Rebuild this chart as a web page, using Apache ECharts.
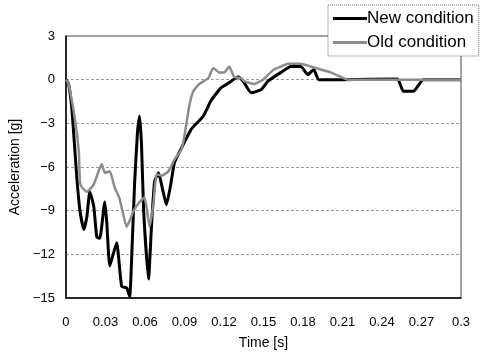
<!DOCTYPE html>
<html>
<head>
<meta charset="utf-8">
<script src="https://cdn.jsdelivr.net/npm/echarts@6/dist/echarts.min.js"></script>
<style>html,body{margin:0;padding:0;background:#fff}#c{width:495px;height:359px}</style>
</head>
<body>
<div id="c"></div>
<script>
var yTicks = [3, 0, -3, -6, -9, -12, -15];
var xTicks = [0, 0.03, 0.06, 0.09, 0.12, 0.15, 0.18, 0.21, 0.24, 0.27, 0.3];

var newTime = [0, 0.002, 0.0045, 0.0065, 0.0083, 0.0105, 0.0136, 0.0159, 0.0181, 0.0211, 0.0234, 0.0257, 0.0295, 0.031, 0.0333, 0.0385, 0.0423, 0.0461, 0.0484, 0.05, 0.0522, 0.0544, 0.0559, 0.0574, 0.059, 0.0627, 0.065, 0.0673, 0.0703, 0.0733, 0.0763, 0.0794, 0.0824, 0.0877, 0.0952, 0.1043, 0.1104, 0.1179, 0.124, 0.1308, 0.1353, 0.1406, 0.1481, 0.1534, 0.1633, 0.1708, 0.1784, 0.1837, 0.1882, 0.192, 0.2086, 0.2517, 0.2562, 0.2638, 0.2714, 0.3];
var newAccel = [0, -0.3, -2, -4.5, -6.8, -8.9, -10.3, -9.4, -7.7, -8.7, -10.8, -10.9, -8.4, -9.8, -12.8, -11.2, -14.2, -14.3, -14.9, -12, -7, -3.5, -2.5, -4.5, -9, -13.7, -10, -7, -6.4, -7.5, -8.6, -7.3, -5.7, -4.7, -3.4, -2.5, -1.4, -0.55, -0.2, 0.2, -0.2, -0.9, -0.7, -0.1, 0.5, 0.9, 0.9, 0.35, 0.7, 0, 0, 0.05, -0.8, -0.8, 0, 0];

var oldTime = [0, 0.002, 0.0068, 0.0098, 0.0106, 0.0121, 0.0159, 0.0211, 0.0272, 0.0295, 0.0333, 0.037, 0.0408, 0.0461, 0.0484, 0.0514, 0.0559, 0.0597, 0.0635, 0.0665, 0.0688, 0.0726, 0.0778, 0.0824, 0.0877, 0.0899, 0.0937, 0.0967, 0.1012, 0.1081, 0.1119, 0.1164, 0.1202, 0.124, 0.1277, 0.133, 0.1353, 0.1429, 0.1497, 0.1542, 0.158, 0.1633, 0.1686, 0.1784, 0.1859, 0.1935, 0.201, 0.2086, 0.2139, 0.3];
var oldAccel = [0, -0.3, -2.7, -5, -7, -7.4, -7.7, -7.2, -5.8, -6.4, -6.3, -7.4, -8.2, -10.1, -9.7, -9, -8.4, -8.1, -10.1, -8.5, -6.5, -6.6, -6.3, -5.5, -4.8, -3.9, -1.8, -0.8, -0.3, 0.1, 0.8, 0.5, 0.5, 0.9, 0.2, 0.1, -0.1, -0.3, 0, 0.4, 0.7, 0.9, 1.1, 1.1, 0.9, 0.7, 0.5, 0.2, 0, 0];

function pairs(t, v) { return t.map(function (x, i) { return [x, v[i]]; }); }

var chart = echarts.init(document.getElementById('c'));
chart.setOption({
  animation: false,
  backgroundColor: '#fff',
  textStyle: { fontFamily: 'Liberation Sans, Arial, sans-serif' },
  grid: { left: 64, right: 34, top: 36, bottom: 61, show: true, borderColor: '#444', borderWidth: 1, backgroundColor: 'transparent' },
  legend: {
    orient: 'vertical', left: 328, top: 5, itemGap: 7, itemWidth: 34, itemHeight: 3,
    padding: [5, 5, 5, 5], backgroundColor: '#fff', borderColor: '#666', borderWidth: 1, borderType: 'dotted',
    textStyle: { fontSize: 17, color: '#000', padding: [0, 0, 0, -5] },
    data: [{ name: 'New condition', icon: 'rect' }, { name: 'Old condition', icon: 'rect' }]
  },
  xAxis: {
    type: 'value', min: 0, max: 0.3, interval: 0.03,
    name: 'Time [s]', nameLocation: 'middle', nameGap: 38,
    nameTextStyle: { fontSize: 14, color: '#000' },
    axisLine: { show: true, onZero: false, lineStyle: { color: '#000', width: 1.5 } },
    axisTick: { show: false },
    splitLine: { show: false },
    axisLabel: { fontSize: 13, color: '#000', margin: 18,
      formatter: function (v) { return v === 0 ? '0' : String(+v.toFixed(2)); } }
  },
  yAxis: {
    type: 'value', min: -15, max: 3, interval: 3,
    name: 'Acceleration [g]', nameLocation: 'middle', nameGap: 37,
    nameTextStyle: { fontSize: 14, color: '#000' },
    axisLine: { show: true, lineStyle: { color: '#000', width: 1.5 } },
    axisTick: { show: false },
    splitLine: { show: true, lineStyle: { color: '#999', type: [3, 2], width: 1 } },
    axisLabel: { fontSize: 13, color: '#000', margin: 11,
      formatter: function (v) { return String(v).replace('-', '\u2212'); } }
  },
  series: [
    { name: 'New condition', type: 'line', symbol: 'none', smooth: 0.15, z: 3,
      lineStyle: { color: '#000', width: 3 }, itemStyle: { color: '#000' },
      data: pairs(newTime, newAccel) },
    { name: 'Old condition', type: 'line', symbol: 'none', smooth: 0.15, z: 4,
      lineStyle: { color: '#8c8c8c', width: 2.5 }, itemStyle: { color: '#8c8c8c' },
      data: pairs(oldTime, oldAccel) }
  ]
});
</script>
</body>
</html>
